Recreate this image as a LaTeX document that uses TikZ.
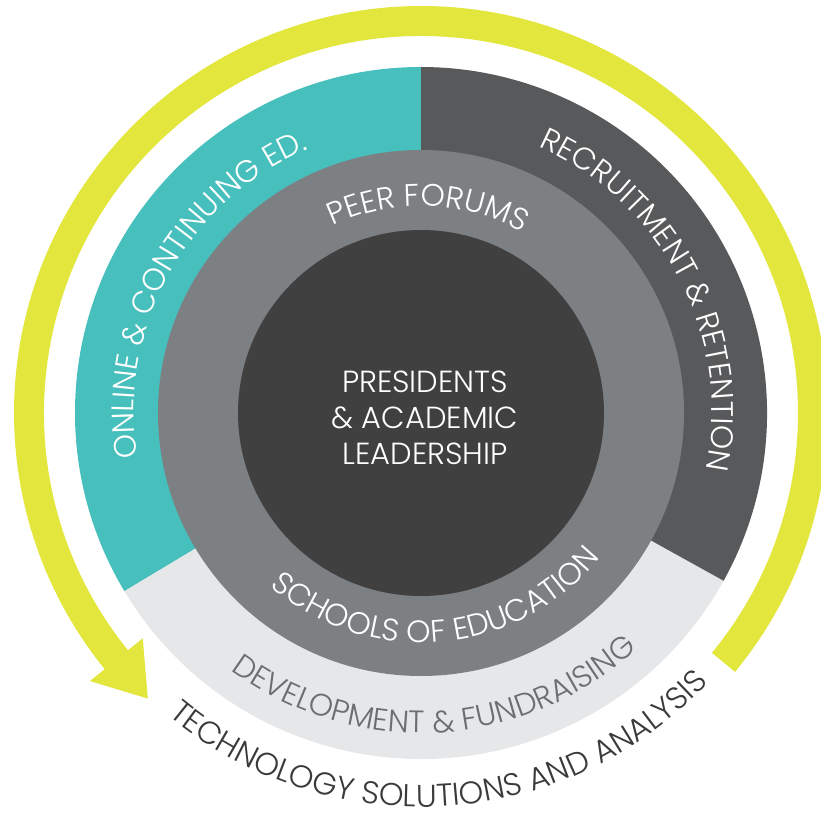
\documentclass[tikz,border=0pt]{standalone}
\usepackage{fontspec}
\setmainfont{Poppins}[UprightFont={* Light}]
\usetikzlibrary{decorations.text,calc}
\definecolor{tealc}{HTML}{47BFBD}
\definecolor{darkseg}{HTML}{58595B}
\definecolor{midring}{HTML}{7D8083}
\definecolor{corec}{HTML}{404041}
\definecolor{lightseg}{HTML}{E6E7E8}
\definecolor{yel}{HTML}{E2E63D}
\definecolor{devtext}{HTML}{6D6E71}
\definecolor{techtext}{HTML}{3A3A3C}
\newcommand\lblfont{\fontsize{31}{36}\selectfont}
\newcommand\techfont{\fontsize{31.5}{36}\selectfont}
\begin{document}
\begin{tikzpicture}[x=1pt,y=1pt]
\useasboundingbox (-421pt,-403pt) rectangle (400pt,413pt);
% yellow arrow
\fill[yel] (-39.5:407pt) arc[start angle=-39.5, end angle=219, radius=407pt]
  -- (219:426pt) -- ($(219:392pt)+(309:50pt)$) -- (219:358pt) -- (219:377pt)
  arc[start angle=219, end angle=-39.5, radius=377pt] -- cycle;
% outer segments
\fill[tealc] (0,0) -- (90:346pt) arc[start angle=90, end angle=211, radius=346pt] -- cycle;
\fill[lightseg] (0,0) -- (211:346pt) arc[start angle=211, end angle=331, radius=346pt] -- cycle;
\fill[darkseg] (0,0) -- (-29:346pt) arc[start angle=-29, end angle=90, radius=346pt] -- cycle;
% rings
\fill[midring] (0,0) circle[radius=263pt];
\fill[corec] (0,0) circle[radius=183pt];
% centre
\node[align=center, text=white, font=\fontsize{30.5}{36}\selectfont, inner sep=0pt] (core) at (4pt,-5pt) {PRESIDENTS\\\& ACADEMIC\\LEADERSHIP};
% arc labels
\path[decorate, decoration={text along path, text align=center, text={|\lblfont\color{white}|PEER FORUMS}}]
  (140:207pt) arc[start angle=140, end angle=36, radius=207pt];
\path[decorate, decoration={text along path, text align=center, text={|\lblfont\color{white}|SCHOOLS OF EDUCATION}}]
  (205:230pt) arc[start angle=205, end angle=345, radius=230pt];
\path[decorate, decoration={text along path, text align=center, text={|\lblfont\color{devtext}|DEVELOPMENT {\&} FUNDRAISING}}]
  (208:320pt) arc[start angle=208, end angle=338, radius=320pt];
\path[decorate, decoration={text along path, text align=center, text={|\lblfont\color{white}|ONLINE {\&} CONTINUING ED.}}]
  (220:287pt) arc[start angle=220, end angle=82, radius=287pt];
\path[decorate, decoration={text along path, text align=center, text={|\lblfont\color{white}|RECRUITMENT {\&} RETENTION}}]
  (97:291pt) arc[start angle=97, end angle=-42, radius=291pt];
\path[decorate, decoration={text along path, text align=center, text={|\techfont\color{techtext}|TECHNOLOGY SOLUTIONS AND ANALYSIS}}]
  (212:394pt) arc[start angle=212, end angle=335, radius=394pt];
\end{tikzpicture}
\end{document}
